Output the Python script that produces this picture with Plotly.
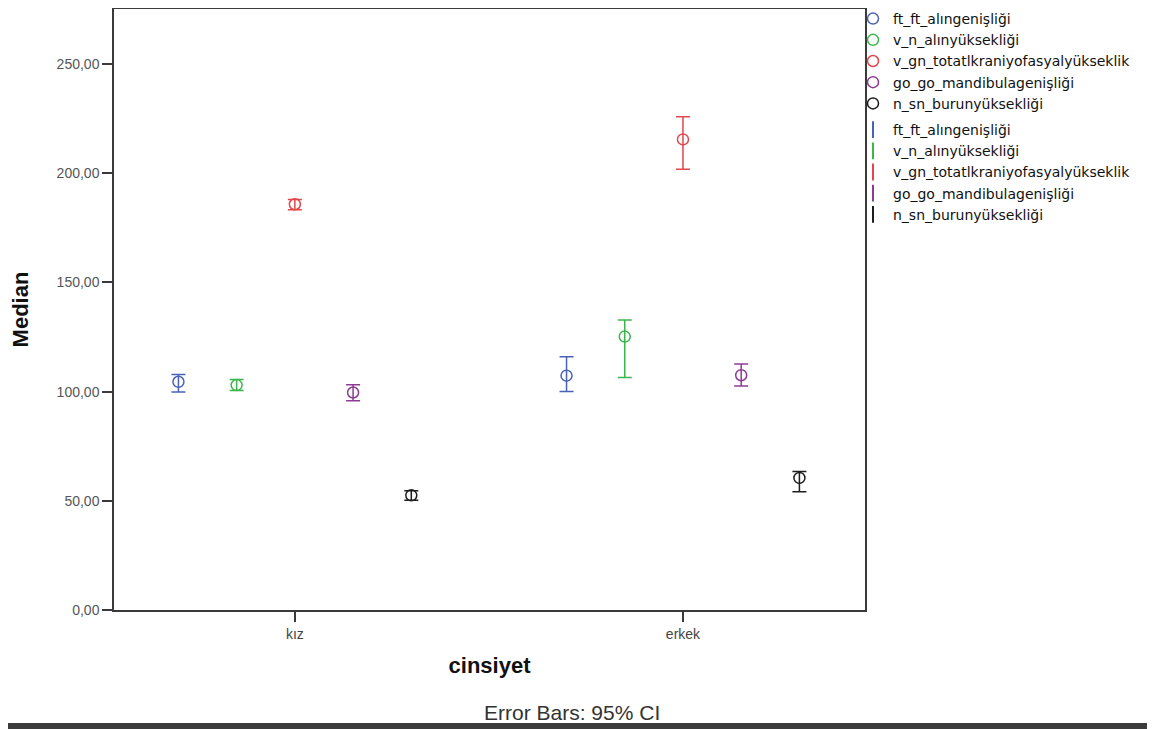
import plotly.graph_objects as go

categories = ["kız", "erkek"]
series_names = [
    "ft_ft_alıngenişliği",
    "v_n_alınyüksekliği",
    "v_gn_totatlkraniyofasyalyükseklik",
    "go_go_mandibulagenişliği",
    "n_sn_burunyüksekliği",
]
series_colors = ["#4a62b6", "#3cb54c", "#e2474d", "#8e3b96", "#1e1e1e"]

median_ft = [104.5, 107.3]
lower_ft = [99.8, 100.0]
upper_ft = [107.8, 116.0]

median_vn = [103.0, 125.2]
lower_vn = [100.5, 106.5]
upper_vn = [105.5, 132.8]

median_vgn = [185.8, 215.5]
lower_vgn = [183.3, 201.8]
upper_vgn = [188.0, 225.9]

median_gogo = [99.6, 107.5]
lower_gogo = [95.8, 102.6]
upper_gogo = [103.2, 112.6]

median_nsn = [52.5, 60.5]
lower_nsn = [50.2, 54.2]
upper_nsn = [54.6, 63.4]

medians = [median_ft, median_vn, median_vgn, median_gogo, median_nsn]
lowers = [lower_ft, lower_vn, lower_vgn, lower_gogo, lower_nsn]
uppers = [upper_ft, upper_vn, upper_vgn, upper_gogo, upper_nsn]

y_ticks = [0, 50, 100, 150, 200, 250]

FONT = "Liberation Sans, Arial, sans-serif"
LEGEND_FONT = "DejaVu Sans, Verdana, sans-serif"

W, H = 1147, 721
ML, MR, MT, MB = 106, 290, 1, 119
PW = W - ML - MR
PH = H - MT - MB


def px_x(x):
    return (x - ML) / PW


def px_y(y):
    return (H - MB - y) / PH


fig = go.Figure()

for name, col, med, lo, hi in zip(series_names, series_colors, medians, lowers, uppers):
    fig.add_trace(go.Scatter(
        x=categories, y=med, name=name, mode="markers",
        offsetgroup=name, legendgroup="a",
        marker=dict(symbol="circle-open", size=11, color=col, line=dict(width=1.5, color=col)),
        error_y=dict(type="data", symmetric=False,
                     array=[h - m for h, m in zip(hi, med)],
                     arrayminus=[m - l for m, l in zip(med, lo)],
                     color=col, thickness=1.5, width=7),
    ))

for name, col in zip(series_names, series_colors):
    fig.add_trace(go.Scatter(
        x=[None], y=[None], name=name, mode="markers",
        xaxis="x2", yaxis="y2", legendgroup="b",
        marker=dict(symbol="line-ns-open", size=12, color=col, line=dict(width=2, color=col)),
    ))

fig.update_layout(
    width=W, height=H,
    margin=dict(l=ML, r=MR, t=MT, b=MB, autoexpand=False),
    paper_bgcolor="white", plot_bgcolor="white",
    scattermode="group", scattergap=0.25,
    separators=",.",
    font=dict(family=FONT, color="#333"),
    xaxis=dict(
        type="category", range=[-0.466, 1.469],
        showline=True, linecolor="#3a3a3a", linewidth=1.5, mirror=True,
        ticks="outside", ticklen=10, tickwidth=1.5, tickcolor="#3a3a3a",
        showgrid=False, zeroline=False,
        tickfont=dict(family=FONT, size=14, color="#444"),
        title=dict(text="<b>cinsiyet</b>", font=dict(family=FONT, size=22, color="#111"), standoff=17),
    ),
    yaxis=dict(
        range=[0, 275.2],
        tickvals=y_ticks, tickformat=".2f",
        showline=True, linecolor="#3a3a3a", linewidth=1.5, mirror=True,
        ticks="outside", ticklen=10, tickwidth=1.5, tickcolor="#3a3a3a",
        showgrid=False, zeroline=False,
        tickfont=dict(family=FONT, size=14, color="#555"),
        title=dict(text="<b>Median</b>", font=dict(family=FONT, size=22, color="#111"), standoff=25),
    ),
    xaxis2=dict(overlaying="x", visible=False, range=[0, 1]),
    yaxis2=dict(overlaying="y", visible=False, range=[0, 1]),
    legend=dict(
        x=px_x(845), y=px_y(-5), xanchor="left", yanchor="top",
        bgcolor="rgba(0,0,0,0)", traceorder="grouped", tracegroupgap=5,
        font=dict(family=LEGEND_FONT, size=14, color="#111"),
        itemwidth=30,
    ),
    annotations=[dict(
        text="Error Bars: 95% CI", xref="paper", yref="paper",
        x=px_x(564), y=px_y(704), xanchor="center", yanchor="middle",
        showarrow=False, font=dict(family=FONT, size=21, color="#333"),
    )],
    shapes=[
        dict(type="rect", xref="paper", yref="paper", x0=px_x(-10), x1=px_x(W + 10),
             y0=px_y(715), y1=px_y(H + 10),
             fillcolor="#3c3c3c", line=dict(width=0), layer="above"),
    ],
)

fig.write_html("out.html")
